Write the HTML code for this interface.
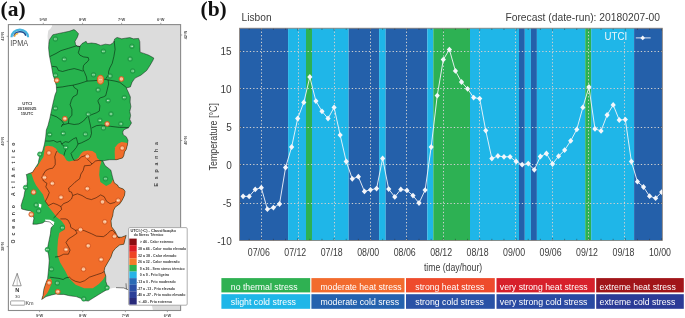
<!DOCTYPE html>
<html><head><meta charset="utf-8"><style>
html,body{margin:0;padding:0;background:#fff;}
body{width:685px;height:318px;overflow:hidden;position:relative;}
svg{position:absolute;left:0;top:0;font-family:"Liberation Sans",sans-serif;will-change:transform;}
</style></head><body>
<svg width="685" height="318" viewBox="0 0 685 318">
<defs><clipPath id="pt"><path d="M48.8 44.2 L49.6 39.5 L52.8 34.8 L57.5 33.7 L63.4 32.5 L69.2 31.3 L73.9 29.6 L75.5 30.5 L78.5 33.7 L77.4 37.2 L75.0 41.3 L75.6 44.8 L77.5 46.3 L79.7 46.5 L82.0 43.6 L86.1 41.3 L87.3 43.6 L91.4 43.0 L96.1 43.6 L100.7 45.4 L105.4 44.2 L110.1 44.8 L113.6 42.4 L114.7 38.9 L117.1 37.4 L121.7 38.8 L125.2 38.2 L129.9 37.6 L133.4 38.8 L138.6 38.4 L139.8 41.7 L140.1 52.2 L143.9 53.4 L148.5 55.1 L153.8 58.0 L153.1 60.0 L150.9 63.9 L149.0 67.0 L146.7 70.5 L140.9 75.2 L135.0 78.1 L132.1 82.2 L130.4 86.9 L126.3 88.0 L128.0 91.5 L130.4 97.0 L130.1 102.0 L130.9 106.7 L129.8 111.4 L130.6 115.4 L129.8 119.5 L131.5 123.0 L128.6 127.7 L123.9 129.7 L122.7 132.0 L123.3 134.9 L126.2 136.7 L128.0 140.2 L127.4 144.9 L126.2 149.5 L124.5 151.9 L123.9 155.4 L122.6 157.9 L116.7 159.7 L109.7 159.7 L102.7 160.8 L105.0 165.5 L110.9 170.2 L112.0 174.9 L113.2 179.5 L114.4 183.0 L117.5 185.0 L118.7 187.3 L123.4 189.1 L125.1 191.4 L124.5 195.5 L122.2 200.2 L119.9 203.7 L115.2 207.2 L113.4 210.7 L112.8 215.4 L111.0 220.8 L111.6 226.7 L115.1 231.4 L118.0 237.2 L121.5 237.2 L126.2 235.4 L125.0 239.5 L123.9 244.2 L119.6 245.0 L115.3 248.5 L112.7 251.9 L111.0 257.1 L108.4 261.4 L104.9 267.5 L104.1 270.9 L105.8 276.1 L105.8 281.3 L107.5 286.5 L108.4 289.1 L106.0 290.2 L101.6 292.8 L97.2 295.5 L92.7 298.3 L88.3 301.1 L83.8 300.5 L80.5 298.3 L76.1 296.6 L71.6 296.1 L68.3 295.5 L63.9 294.4 L59.4 294.4 L56.1 293.9 L51.6 295.0 L46.1 296.6 L41.7 299.4 L43.0 295.5 L43.9 288.9 L46.1 282.2 L47.6 278.8 L48.6 268.9 L49.2 260.7 L48.6 254.9 L47.4 250.2 L48.0 245.5 L49.2 239.7 L50.4 233.8 L51.0 228.0 L53.2 225.4 L49.7 221.9 L45.0 221.3 L42.7 223.0 L36.9 224.2 L32.8 224.2 L33.9 218.4 L32.2 212.5 L30.4 210.8 L26.4 210.2 L21.7 209.0 L21.1 205.5 L22.8 199.7 L23.8 196.9 L24.9 191.0 L26.7 186.4 L27.3 181.7 L26.7 175.8 L26.1 174.7 L29.0 173.5 L32.5 172.3 L35.4 167.7 L38.4 163.0 L38.7 160.4 L39.9 155.7 L42.8 150.4 L44.5 144.0 L45.7 137.0 L46.3 130.0 L48.0 125.4 L49.8 118.4 L51.5 110.2 L53.3 102.0 L55.0 95.0 L56.6 91.0 L56.3 85.4 L54.5 79.5 L52.8 73.7 L51.6 66.7 L50.4 60.8 L49.3 55.0 L48.6 48.0Z"/></clipPath></defs>
<rect x="8.4" y="24.6" width="172.2" height="285.9" fill="#fff"/>
<path d="M51.7 24.6 L52.2 26.0 L50.6 28.4 L48.2 30.8 L47.6 36.0 L48.0 43.5 L48.8 44.2 L49.6 39.5 L52.8 34.8 L57.5 33.7 L63.4 32.5 L69.2 31.3 L73.9 29.6 L75.5 30.5 L78.5 33.7 L77.4 37.2 L75.0 41.3 L75.6 44.8 L77.5 46.3 L79.7 46.5 L82.0 43.6 L86.1 41.3 L87.3 43.6 L91.4 43.0 L96.1 43.6 L100.7 45.4 L105.4 44.2 L110.1 44.8 L113.6 42.4 L114.7 38.9 L117.1 37.4 L121.7 38.8 L125.2 38.2 L129.9 37.6 L133.4 38.8 L138.6 38.4 L139.8 41.7 L140.1 52.2 L143.9 53.4 L148.5 55.1 L153.8 58.0 L153.1 60.0 L150.9 63.9 L149.0 67.0 L146.7 70.5 L140.9 75.2 L135.0 78.1 L132.1 82.2 L130.4 86.9 L126.3 88.0 L128.0 91.5 L130.4 97.0 L130.1 102.0 L130.9 106.7 L129.8 111.4 L130.6 115.4 L129.8 119.5 L131.5 123.0 L128.6 127.7 L123.9 129.7 L122.7 132.0 L123.3 134.9 L126.2 136.7 L128.0 140.2 L127.4 144.9 L126.2 149.5 L124.5 151.9 L123.9 155.4 L122.6 157.9 L116.7 159.7 L109.7 159.7 L102.7 160.8 L105.0 165.5 L110.9 170.2 L112.0 174.9 L113.2 179.5 L114.4 183.0 L117.5 185.0 L118.7 187.3 L123.4 189.1 L125.1 191.4 L124.5 195.5 L122.2 200.2 L119.9 203.7 L115.2 207.2 L113.4 210.7 L112.8 215.4 L111.0 220.8 L111.6 226.7 L115.1 231.4 L118.0 237.2 L121.5 237.2 L126.2 235.4 L125.0 239.5 L123.9 244.2 L119.6 245.0 L115.3 248.5 L112.7 251.9 L111.0 257.1 L108.4 261.4 L104.9 267.5 L104.1 270.9 L105.8 276.1 L105.8 281.3 L107.5 286.5 L108.4 289.1 L113.0 288.0 L117.0 287.5 L123.6 287.9 L128.3 289.8 L140.0 296.0 L148.0 302.0 L152.0 306.0 L153.0 310.5 L180.6 310.5 L180.6 24.6Z" fill="#dcdcdc"/>
<path d="M48.8 44.2 L49.6 39.5 L52.8 34.8 L57.5 33.7 L63.4 32.5 L69.2 31.3 L73.9 29.6 L75.5 30.5 L78.5 33.7 L77.4 37.2 L75.0 41.3 L75.6 44.8 L77.5 46.3 L79.7 46.5 L82.0 43.6 L86.1 41.3 L87.3 43.6 L91.4 43.0 L96.1 43.6 L100.7 45.4 L105.4 44.2 L110.1 44.8 L113.6 42.4 L114.7 38.9 L117.1 37.4 L121.7 38.8 L125.2 38.2 L129.9 37.6 L133.4 38.8 L138.6 38.4 L139.8 41.7 L140.1 52.2 L143.9 53.4 L148.5 55.1 L153.8 58.0 L153.1 60.0 L150.9 63.9 L149.0 67.0 L146.7 70.5 L140.9 75.2 L135.0 78.1 L132.1 82.2 L130.4 86.9 L126.3 88.0 L128.0 91.5 L130.4 97.0 L130.1 102.0 L130.9 106.7 L129.8 111.4 L130.6 115.4 L129.8 119.5 L131.5 123.0 L128.6 127.7 L123.9 129.7 L122.7 132.0 L123.3 134.9 L126.2 136.7 L128.0 140.2 L127.4 144.9 L126.2 149.5 L124.5 151.9 L123.9 155.4 L122.6 157.9 L116.7 159.7 L109.7 159.7 L102.7 160.8 L105.0 165.5 L110.9 170.2 L112.0 174.9 L113.2 179.5 L114.4 183.0 L117.5 185.0 L118.7 187.3 L123.4 189.1 L125.1 191.4 L124.5 195.5 L122.2 200.2 L119.9 203.7 L115.2 207.2 L113.4 210.7 L112.8 215.4 L111.0 220.8 L111.6 226.7 L115.1 231.4 L118.0 237.2 L121.5 237.2 L126.2 235.4 L125.0 239.5 L123.9 244.2 L119.6 245.0 L115.3 248.5 L112.7 251.9 L111.0 257.1 L108.4 261.4 L104.9 267.5 L104.1 270.9 L105.8 276.1 L105.8 281.3 L107.5 286.5 L108.4 289.1 L106.0 290.2 L101.6 292.8 L97.2 295.5 L92.7 298.3 L88.3 301.1 L83.8 300.5 L80.5 298.3 L76.1 296.6 L71.6 296.1 L68.3 295.5 L63.9 294.4 L59.4 294.4 L56.1 293.9 L51.6 295.0 L46.1 296.6 L41.7 299.4 L43.0 295.5 L43.9 288.9 L46.1 282.2 L47.6 278.8 L48.6 268.9 L49.2 260.7 L48.6 254.9 L47.4 250.2 L48.0 245.5 L49.2 239.7 L50.4 233.8 L51.0 228.0 L53.2 225.4 L49.7 221.9 L45.0 221.3 L42.7 223.0 L36.9 224.2 L32.8 224.2 L33.9 218.4 L32.2 212.5 L30.4 210.8 L26.4 210.2 L21.7 209.0 L21.1 205.5 L22.8 199.7 L23.8 196.9 L24.9 191.0 L26.7 186.4 L27.3 181.7 L26.7 175.8 L26.1 174.7 L29.0 173.5 L32.5 172.3 L35.4 167.7 L38.4 163.0 L38.7 160.4 L39.9 155.7 L42.8 150.4 L44.5 144.0 L45.7 137.0 L46.3 130.0 L48.0 125.4 L49.8 118.4 L51.5 110.2 L53.3 102.0 L55.0 95.0 L56.6 91.0 L56.3 85.4 L54.5 79.5 L52.8 73.7 L51.6 66.7 L50.4 60.8 L49.3 55.0 L48.6 48.0Z" fill="#27b34e"/>
<g clip-path="url(#pt)">
<path d="M20.0 167.0 L37.0 167.0 L41.0 160.4 L43.4 156.9 L45.1 146.4 L48.0 145.8 L52.7 146.4 L56.2 148.7 L58.0 152.2 L59.7 153.4 L63.2 155.1 L66.7 160.4 L69.0 161.5 L73.7 160.4 L78.4 158.0 L80.7 153.9 L83.1 151.6 L87.7 150.4 L92.4 151.0 L95.9 153.4 L97.1 158.0 L100.0 160.4 L101.5 161.4 L99.8 166.7 L99.2 174.9 L100.4 181.9 L106.2 186.0 L110.9 183.6 L113.2 179.5 L150.0 179.0 L150.0 276.0 L105.3 276.1 L103.2 279.6 L98.9 283.9 L92.8 288.2 L84.2 288.2 L75.6 284.7 L68.6 277.8 L65.2 270.9 L60.0 262.3 L59.1 259.5 L57.4 254.9 L57.4 247.9 L58.0 239.7 L59.2 233.0 L61.4 231.5 L65.0 229.0 L64.9 225.4 L61.4 220.7 L56.7 217.2 L53.2 212.5 L48.5 206.7 L45.0 200.8 L43.0 194.5 L39.5 189.9 L36.0 185.2 L33.7 180.5 L31.4 173.5 L20.0 173.0Z" fill="#f16d2a"/>
<path d="M115.0 161.0 L114.7 152.0 L115.1 147.2 L118.0 143.7 L121.5 142.0 L125.0 142.5 L135.0 145.0 L135.0 162.0Z" fill="#f16d2a"/>
<path d="M40.0 300.0 L42.5 295.0 L44.0 289.0 L46.0 282.0 L47.5 279.5 L50.5 278.5 L51.8 280.5 L51.6 283.3 L49.4 288.9 L47.2 293.3 L44.4 296.6 L42.8 300.0Z" fill="#f16d2a"/>
</g>
<path d="M38.6 203.5 L41.5 204.5 L41 207.8 L38.8 207 Z" fill="#fff"/>
<path d="M45 219.5 L50 219.8 L54.4 222 L53.5 225.4 L50 222.5 L45.5 221.6Z" fill="#fff"/>
<path d="M49.9 56.5 L56.0 53.5 L61.0 50.6 L68.6 48.3 L76.2 45.9 L79.7 46.5 M80.0 45.8 L79.5 48.8 L78.3 52.8 L80.0 55.2 L83.5 56.9 L88.2 57.5 L88.8 59.9 L87.0 62.2 L85.3 63.4 L83.5 65.7 L83.0 69.2 L84.7 72.7 L86.5 77.0 L87.0 81.1 M52.0 66.3 L56.7 66.9 L58.4 70.4 L62.5 71.5 L68.4 69.8 L74.2 68.6 L78.9 69.8 L82.4 71.0 L83.3 70.5 M114.2 41.0 L115.1 49.3 L113.9 56.4 L112.2 63.4 L109.8 68.0 L108.6 71.5 L108.6 74.7 L105.7 78.8 M56.7 87.5 L62.5 86.9 L68.4 85.8 L73.0 85.2 L80.0 83.4 L87.0 81.1 L94.0 80.7 L97.6 80.3 L104.6 79.3 L108.1 79.9 L115.1 81.1 L119.7 82.3 L125.0 86.4 L126.5 87.8 M73.0 85.2 L74.2 87.5 L77.7 89.9 L77.1 94.5 L73.0 96.9 L71.3 100.4 L70.1 104.7 L71.9 109.3 L71.9 115.2 L68.9 118.7 L68.4 123.4 M108.1 79.9 L108.6 84.0 L106.9 91.0 L105.7 95.7 L103.4 96.9 L99.9 98.0 L98.1 100.4 L98.1 101.8 L99.9 105.8 L99.3 111.1 L96.4 112.8 L91.7 114.6 L87.0 116.9 L83.5 121.0 L78.9 123.9 L74.2 124.5 L68.4 123.4 L62.0 125.1 L61.4 126.9 M50.8 114.6 L56.7 116.9 L61.4 120.4 L63.7 123.4 L62.0 125.1 M88.2 115.2 L89.4 121.0 L90.5 125.7 L91.1 129.2 L91.5 133.5 L90.3 137.6 L88.5 139.3 L85.0 141.1 L81.5 142.8 L78.0 144.0 L77.4 141.7 L76.3 137.6 L73.4 138.8 L71.0 140.5 L68.7 142.3 L65.2 141.7 L61.7 144.0 L60.5 141.1 L57.0 142.3 L53.5 140.5 L50.0 141.1 L45.5 141.0 M91.7 128.0 L96.4 125.7 L101.1 125.1 L105.7 125.7 L110.4 126.3 L115.1 126.9 L119.7 127.4 L125.0 127.4 L128.6 127.7 M61.7 144.0 L64.0 146.4 L65.8 149.9 L64.6 152.8 L64.0 155.7 M78.0 144.0 L76.3 147.5 L73.4 151.0 L71.0 153.4 L72.2 156.9 L73.9 160.4 L78.0 160.0 L81.5 156.9 L85.0 155.7 L87.4 159.2 L89.7 161.5 L92.0 164.0 L95.5 161.0 L98.0 160.5 L102.7 160.8 M92.0 164.0 L90.2 165.3 L84.4 165.8 L83.2 170.5 L80.9 174.0 L79.7 178.7 L75.0 182.2 L71.5 185.7 L68.6 188.0 L69.2 191.5 L71.5 192.0 L72.7 195.5 L77.4 193.8 L82.0 195.5 L86.7 198.4 L91.4 199.6 L96.1 197.8 L100.7 194.9 L104.2 196.7 L106.6 201.3 L110.1 203.7 L114.7 202.5 L117.1 200.2 L121.0 201.0 M57.0 151.0 L55.8 153.4 L54.7 156.9 L55.2 160.0 L55.2 164.7 L52.8 168.2 L49.3 168.8 L45.8 170.5 L43.5 174.0 L41.8 177.5 L43.5 181.0 L47.0 183.4 L45.8 186.9 L48.2 190.4 L49.3 192.7 L47.6 197.0 L45.3 201.3 L48.5 205.5 L53.2 203.2 L57.0 204.5 L61.0 206.6 M72.7 195.5 L71.5 199.0 L68.0 201.9 L63.4 203.7 L61.0 206.6 L61.6 209.5 L58.7 212.4 L56.4 215.4 L53.5 218.0 M60.4 218.9 L65.7 218.9 L68.0 220.0 L70.4 224.7 L70.7 227.3 L75.4 230.3 L77.1 233.2 L73.0 236.1 L68.4 239.0 L66.0 242.5 L68.4 246.6 L70.1 250.1 L68.4 254.2 L63.7 254.2 L59.0 256.5 L55.0 257.0 M75.4 230.3 L80.0 229.7 L84.7 230.8 L91.7 233.8 L96.4 236.1 L103.4 236.7 L106.9 234.3 L110.4 230.8 L112.7 230.3 L115.1 233.2 L117.4 236.7 L119.7 237.8 M49.7 277.2 L54.4 277.8 L59.0 278.4 L63.1 279.5 L66.0 277.8 L69.5 277.2 L71.9 279.5 L75.4 281.3 L80.0 282.4 L84.7 280.7 L89.4 277.2 L96.4 274.8 L101.6 273.1 L104.6 271.3" fill="none" stroke="#000" stroke-width="0.8" stroke-opacity="0.6" stroke-linejoin="round"/>
<path d="M116 287.6 L123.6 287.9 L128.3 289.8 M126 283.3 L126.4 289.2" fill="none" stroke="#222" stroke-width="0.7" stroke-opacity="0.8"/>
<path d="M48.8 44.2 L49.6 39.5 L52.8 34.8 L57.5 33.7 L63.4 32.5 L69.2 31.3 L73.9 29.6 L75.5 30.5 L78.5 33.7 L77.4 37.2 L75.0 41.3 L75.6 44.8 L77.5 46.3 L79.7 46.5 L82.0 43.6 L86.1 41.3 L87.3 43.6 L91.4 43.0 L96.1 43.6 L100.7 45.4 L105.4 44.2 L110.1 44.8 L113.6 42.4 L114.7 38.9 L117.1 37.4 L121.7 38.8 L125.2 38.2 L129.9 37.6 L133.4 38.8 L138.6 38.4 L139.8 41.7 L140.1 52.2 L143.9 53.4 L148.5 55.1 L153.8 58.0 L153.1 60.0 L150.9 63.9 L149.0 67.0 L146.7 70.5 L140.9 75.2 L135.0 78.1 L132.1 82.2 L130.4 86.9 L126.3 88.0 L128.0 91.5 L130.4 97.0 L130.1 102.0 L130.9 106.7 L129.8 111.4 L130.6 115.4 L129.8 119.5 L131.5 123.0 L128.6 127.7 L123.9 129.7 L122.7 132.0 L123.3 134.9 L126.2 136.7 L128.0 140.2 L127.4 144.9 L126.2 149.5 L124.5 151.9 L123.9 155.4 L122.6 157.9 L116.7 159.7 L109.7 159.7 L102.7 160.8 L105.0 165.5 L110.9 170.2 L112.0 174.9 L113.2 179.5 L114.4 183.0 L117.5 185.0 L118.7 187.3 L123.4 189.1 L125.1 191.4 L124.5 195.5 L122.2 200.2 L119.9 203.7 L115.2 207.2 L113.4 210.7 L112.8 215.4 L111.0 220.8 L111.6 226.7 L115.1 231.4 L118.0 237.2 L121.5 237.2 L126.2 235.4 L125.0 239.5 L123.9 244.2 L119.6 245.0 L115.3 248.5 L112.7 251.9 L111.0 257.1 L108.4 261.4 L104.9 267.5 L104.1 270.9 L105.8 276.1 L105.8 281.3 L107.5 286.5 L108.4 289.1 L106.0 290.2 L101.6 292.8 L97.2 295.5 L92.7 298.3 L88.3 301.1 L83.8 300.5 L80.5 298.3 L76.1 296.6 L71.6 296.1 L68.3 295.5 L63.9 294.4 L59.4 294.4 L56.1 293.9 L51.6 295.0 L46.1 296.6 L41.7 299.4 L43.0 295.5 L43.9 288.9 L46.1 282.2 L47.6 278.8 L48.6 268.9 L49.2 260.7 L48.6 254.9 L47.4 250.2 L48.0 245.5 L49.2 239.7 L50.4 233.8 L51.0 228.0 L53.2 225.4 L49.7 221.9 L45.0 221.3 L42.7 223.0 L36.9 224.2 L32.8 224.2 L33.9 218.4 L32.2 212.5 L30.4 210.8 L26.4 210.2 L21.7 209.0 L21.1 205.5 L22.8 199.7 L23.8 196.9 L24.9 191.0 L26.7 186.4 L27.3 181.7 L26.7 175.8 L26.1 174.7 L29.0 173.5 L32.5 172.3 L35.4 167.7 L38.4 163.0 L38.7 160.4 L39.9 155.7 L42.8 150.4 L44.5 144.0 L45.7 137.0 L46.3 130.0 L48.0 125.4 L49.8 118.4 L51.5 110.2 L53.3 102.0 L55.0 95.0 L56.6 91.0 L56.3 85.4 L54.5 79.5 L52.8 73.7 L51.6 66.7 L50.4 60.8 L49.3 55.0 L48.6 48.0Z" fill="none" stroke="#000" stroke-width="0.7" stroke-opacity="0.62"/>
<circle cx="55.4" cy="39.0" r="2.3" fill="#34b457" stroke="#16803a" stroke-width="0.55"/>
<path d="M54.3 39.0 h2.2" stroke="#e4f4e6" stroke-width="1" stroke-dasharray="0.9 0.4"/>
<circle cx="64.3" cy="59.3" r="2.3" fill="#34b457" stroke="#16803a" stroke-width="0.55"/>
<path d="M63.2 59.3 h2.2" stroke="#e4f4e6" stroke-width="1" stroke-dasharray="0.9 0.4"/>
<circle cx="103.4" cy="51.3" r="2.3" fill="#34b457" stroke="#16803a" stroke-width="0.55"/>
<path d="M102.3 51.3 h2.2" stroke="#e4f4e6" stroke-width="1" stroke-dasharray="0.9 0.4"/>
<circle cx="131.9" cy="46.3" r="2.3" fill="#34b457" stroke="#16803a" stroke-width="0.55"/>
<path d="M130.8 46.3 h2.2" stroke="#e4f4e6" stroke-width="1" stroke-dasharray="0.9 0.4"/>
<circle cx="130.1" cy="59.0" r="2.3" fill="#34b457" stroke="#16803a" stroke-width="0.55"/>
<path d="M129.0 59.0 h2.2" stroke="#e4f4e6" stroke-width="1" stroke-dasharray="0.9 0.4"/>
<circle cx="132.7" cy="71.0" r="2.3" fill="#34b457" stroke="#16803a" stroke-width="0.55"/>
<path d="M131.6 71.0 h2.2" stroke="#e4f4e6" stroke-width="1" stroke-dasharray="0.9 0.4"/>
<circle cx="55.5" cy="75.2" r="2.3" fill="#34b457" stroke="#16803a" stroke-width="0.55"/>
<path d="M54.4 75.2 h2.2" stroke="#e4f4e6" stroke-width="1" stroke-dasharray="0.9 0.4"/>
<circle cx="93.5" cy="74.8" r="2.3" fill="#34b457" stroke="#16803a" stroke-width="0.55"/>
<path d="M92.4 74.8 h2.2" stroke="#e4f4e6" stroke-width="1" stroke-dasharray="0.9 0.4"/>
<circle cx="110.1" cy="76.0" r="2.3" fill="#34b457" stroke="#16803a" stroke-width="0.55"/>
<path d="M109.0 76.0 h2.2" stroke="#e4f4e6" stroke-width="1" stroke-dasharray="0.9 0.4"/>
<circle cx="56.8" cy="80.3" r="2.4" fill="#f6ad7c" stroke="#d4521a" stroke-width="0.85"/>
<path d="M55.7 80.3 h2.2" stroke="#fff0e0" stroke-width="1" stroke-dasharray="0.9 0.4"/>
<ellipse cx="100.5" cy="79.7" rx="3.1" ry="4.4" fill="#f39a60" stroke="#e85a18" stroke-width="1"/>
<path d="M99.4 79.7 h2.2" stroke="#fff0e0" stroke-width="1" stroke-dasharray="0.9 0.4"/>
<circle cx="121.4" cy="79.0" r="2.4" fill="#f6ad7c" stroke="#d4521a" stroke-width="0.85"/>
<path d="M120.3 79.0 h2.2" stroke="#fff0e0" stroke-width="1" stroke-dasharray="0.9 0.4"/>
<circle cx="98.1" cy="89.9" r="2.3" fill="#34b457" stroke="#16803a" stroke-width="0.55"/>
<path d="M97.0 89.9 h2.2" stroke="#e4f4e6" stroke-width="1" stroke-dasharray="0.9 0.4"/>
<circle cx="124.3" cy="97.6" r="2.3" fill="#34b457" stroke="#16803a" stroke-width="0.55"/>
<path d="M123.2 97.6 h2.2" stroke="#e4f4e6" stroke-width="1" stroke-dasharray="0.9 0.4"/>
<circle cx="108.1" cy="100.6" r="2.3" fill="#34b457" stroke="#16803a" stroke-width="0.55"/>
<path d="M107.0 100.6 h2.2" stroke="#e4f4e6" stroke-width="1" stroke-dasharray="0.9 0.4"/>
<circle cx="55.4" cy="108.3" r="2.3" fill="#34b457" stroke="#16803a" stroke-width="0.55"/>
<path d="M54.3 108.3 h2.2" stroke="#e4f4e6" stroke-width="1" stroke-dasharray="0.9 0.4"/>
<circle cx="88.2" cy="114.2" r="2.3" fill="#34b457" stroke="#16803a" stroke-width="0.55"/>
<path d="M87.1 114.2 h2.2" stroke="#e4f4e6" stroke-width="1" stroke-dasharray="0.9 0.4"/>
<circle cx="111.0" cy="114.0" r="2.3" fill="#34b457" stroke="#16803a" stroke-width="0.55"/>
<path d="M109.9 114.0 h2.2" stroke="#e4f4e6" stroke-width="1" stroke-dasharray="0.9 0.4"/>
<circle cx="64.9" cy="118.7" r="2.4" fill="#f6ad7c" stroke="#d4521a" stroke-width="0.85"/>
<path d="M63.8 118.7 h2.2" stroke="#fff0e0" stroke-width="1" stroke-dasharray="0.9 0.4"/>
<circle cx="99.9" cy="120.4" r="2.3" fill="#34b457" stroke="#16803a" stroke-width="0.55"/>
<path d="M98.8 120.4 h2.2" stroke="#e4f4e6" stroke-width="1" stroke-dasharray="0.9 0.4"/>
<circle cx="107.2" cy="123.9" r="2.4" fill="#f6ad7c" stroke="#d4521a" stroke-width="0.85"/>
<path d="M106.1 123.9 h2.2" stroke="#fff0e0" stroke-width="1" stroke-dasharray="0.9 0.4"/>
<circle cx="103.4" cy="128.0" r="2.3" fill="#34b457" stroke="#16803a" stroke-width="0.55"/>
<path d="M102.3 128.0 h2.2" stroke="#e4f4e6" stroke-width="1" stroke-dasharray="0.9 0.4"/>
<circle cx="120.9" cy="123.9" r="2.3" fill="#34b457" stroke="#16803a" stroke-width="0.55"/>
<path d="M119.8 123.9 h2.2" stroke="#e4f4e6" stroke-width="1" stroke-dasharray="0.9 0.4"/>
<circle cx="49.7" cy="134.5" r="2.3" fill="#34b457" stroke="#16803a" stroke-width="0.55"/>
<path d="M48.6 134.5 h2.2" stroke="#e4f4e6" stroke-width="1" stroke-dasharray="0.9 0.4"/>
<circle cx="63.2" cy="133.4" r="2.3" fill="#34b457" stroke="#16803a" stroke-width="0.55"/>
<path d="M62.1 133.4 h2.2" stroke="#e4f4e6" stroke-width="1" stroke-dasharray="0.9 0.4"/>
<circle cx="85.4" cy="134.2" r="2.3" fill="#34b457" stroke="#16803a" stroke-width="0.55"/>
<path d="M84.3 134.2 h2.2" stroke="#e4f4e6" stroke-width="1" stroke-dasharray="0.9 0.4"/>
<circle cx="65.8" cy="147.5" r="2.3" fill="#34b457" stroke="#16803a" stroke-width="0.55"/>
<path d="M64.7 147.5 h2.2" stroke="#e4f4e6" stroke-width="1" stroke-dasharray="0.9 0.4"/>
<circle cx="39.8" cy="154.2" r="2.3" fill="#34b457" stroke="#16803a" stroke-width="0.55"/>
<path d="M38.7 154.2 h2.2" stroke="#e4f4e6" stroke-width="1" stroke-dasharray="0.9 0.4"/>
<circle cx="48.9" cy="152.9" r="2.4" fill="#f6ad7c" stroke="#d4521a" stroke-width="0.85"/>
<path d="M47.8 152.9 h2.2" stroke="#fff0e0" stroke-width="1" stroke-dasharray="0.9 0.4"/>
<circle cx="87.4" cy="156.3" r="2.4" fill="#f6ad7c" stroke="#d4521a" stroke-width="0.85"/>
<path d="M86.3 156.3 h2.2" stroke="#fff0e0" stroke-width="1" stroke-dasharray="0.9 0.4"/>
<circle cx="122.2" cy="148.1" r="2.4" fill="#f6ad7c" stroke="#d4521a" stroke-width="0.85"/>
<path d="M121.1 148.1 h2.2" stroke="#fff0e0" stroke-width="1" stroke-dasharray="0.9 0.4"/>
<circle cx="105.5" cy="178.8" r="2.3" fill="#34b457" stroke="#16803a" stroke-width="0.55"/>
<path d="M104.4 178.8 h2.2" stroke="#e4f4e6" stroke-width="1" stroke-dasharray="0.9 0.4"/>
<circle cx="44.5" cy="177.5" r="2.4" fill="#f6ad7c" stroke="#d4521a" stroke-width="0.85"/>
<path d="M43.4 177.5 h2.2" stroke="#fff0e0" stroke-width="1" stroke-dasharray="0.9 0.4"/>
<circle cx="52.3" cy="183.4" r="2.4" fill="#f6ad7c" stroke="#d4521a" stroke-width="0.85"/>
<path d="M51.2 183.4 h2.2" stroke="#fff0e0" stroke-width="1" stroke-dasharray="0.9 0.4"/>
<circle cx="87.3" cy="188.6" r="2.4" fill="#f6ad7c" stroke="#d4521a" stroke-width="0.85"/>
<path d="M86.2 188.6 h2.2" stroke="#fff0e0" stroke-width="1" stroke-dasharray="0.9 0.4"/>
<circle cx="25.6" cy="187.5" r="2.3" fill="#34b457" stroke="#16803a" stroke-width="0.55"/>
<path d="M24.5 187.5 h2.2" stroke="#e4f4e6" stroke-width="1" stroke-dasharray="0.9 0.4"/>
<circle cx="33.6" cy="192.2" r="2.4" fill="#f6ad7c" stroke="#d4521a" stroke-width="0.85"/>
<path d="M32.5 192.2 h2.2" stroke="#fff0e0" stroke-width="1" stroke-dasharray="0.9 0.4"/>
<circle cx="61.0" cy="197.3" r="2.4" fill="#f6ad7c" stroke="#d4521a" stroke-width="0.85"/>
<path d="M59.9 197.3 h2.2" stroke="#fff0e0" stroke-width="1" stroke-dasharray="0.9 0.4"/>
<circle cx="102.5" cy="201.9" r="2.4" fill="#f6ad7c" stroke="#d4521a" stroke-width="0.85"/>
<path d="M101.4 201.9 h2.2" stroke="#fff0e0" stroke-width="1" stroke-dasharray="0.9 0.4"/>
<circle cx="118.2" cy="200.4" r="2.4" fill="#f6ad7c" stroke="#d4521a" stroke-width="0.85"/>
<path d="M117.1 200.4 h2.2" stroke="#fff0e0" stroke-width="1" stroke-dasharray="0.9 0.4"/>
<circle cx="36.1" cy="205.0" r="2.3" fill="#34b457" stroke="#16803a" stroke-width="0.55"/>
<path d="M35.0 205.0 h2.2" stroke="#e4f4e6" stroke-width="1" stroke-dasharray="0.9 0.4"/>
<circle cx="38.7" cy="211.0" r="2.3" fill="#34b457" stroke="#16803a" stroke-width="0.55"/>
<path d="M37.6 211.0 h2.2" stroke="#e4f4e6" stroke-width="1" stroke-dasharray="0.9 0.4"/>
<circle cx="31.3" cy="214.4" r="2.4" fill="#f6ad7c" stroke="#d4521a" stroke-width="0.85"/>
<path d="M30.2 214.4 h2.2" stroke="#fff0e0" stroke-width="1" stroke-dasharray="0.9 0.4"/>
<circle cx="104.8" cy="221.8" r="2.4" fill="#f6ad7c" stroke="#d4521a" stroke-width="0.85"/>
<path d="M103.7 221.8 h2.2" stroke="#fff0e0" stroke-width="1" stroke-dasharray="0.9 0.4"/>
<circle cx="62.4" cy="227.8" r="2.3" fill="#34b457" stroke="#16803a" stroke-width="0.55"/>
<path d="M61.3 227.8 h2.2" stroke="#e4f4e6" stroke-width="1" stroke-dasharray="0.9 0.4"/>
<circle cx="80.5" cy="229.7" r="2.4" fill="#f6ad7c" stroke="#d4521a" stroke-width="0.85"/>
<path d="M79.4 229.7 h2.2" stroke="#fff0e0" stroke-width="1" stroke-dasharray="0.9 0.4"/>
<circle cx="114.5" cy="236.3" r="2.4" fill="#f6ad7c" stroke="#d4521a" stroke-width="0.85"/>
<path d="M113.4 236.3 h2.2" stroke="#fff0e0" stroke-width="1" stroke-dasharray="0.9 0.4"/>
<circle cx="88.2" cy="245.8" r="2.4" fill="#f6ad7c" stroke="#d4521a" stroke-width="0.85"/>
<path d="M87.1 245.8 h2.2" stroke="#fff0e0" stroke-width="1" stroke-dasharray="0.9 0.4"/>
<circle cx="66.0" cy="249.5" r="2.4" fill="#f6ad7c" stroke="#d4521a" stroke-width="0.85"/>
<path d="M64.9 249.5 h2.2" stroke="#fff0e0" stroke-width="1" stroke-dasharray="0.9 0.4"/>
<circle cx="47.4" cy="249.6" r="2.3" fill="#34b457" stroke="#16803a" stroke-width="0.55"/>
<path d="M46.3 249.6 h2.2" stroke="#e4f4e6" stroke-width="1" stroke-dasharray="0.9 0.4"/>
<circle cx="101.1" cy="259.5" r="2.4" fill="#f6ad7c" stroke="#d4521a" stroke-width="0.85"/>
<path d="M100.0 259.5 h2.2" stroke="#fff0e0" stroke-width="1" stroke-dasharray="0.9 0.4"/>
<circle cx="51.4" cy="269.2" r="2.3" fill="#34b457" stroke="#16803a" stroke-width="0.55"/>
<path d="M50.3 269.2 h2.2" stroke="#e4f4e6" stroke-width="1" stroke-dasharray="0.9 0.4"/>
<circle cx="83.5" cy="269.2" r="2.4" fill="#f6ad7c" stroke="#d4521a" stroke-width="0.85"/>
<path d="M82.4 269.2 h2.2" stroke="#fff0e0" stroke-width="1" stroke-dasharray="0.9 0.4"/>
<circle cx="57.3" cy="283.0" r="2.3" fill="#34b457" stroke="#16803a" stroke-width="0.55"/>
<path d="M56.2 283.0 h2.2" stroke="#e4f4e6" stroke-width="1" stroke-dasharray="0.9 0.4"/>
<circle cx="49.1" cy="282.8" r="2.4" fill="#f6ad7c" stroke="#d4521a" stroke-width="0.85"/>
<path d="M48.0 282.8 h2.2" stroke="#fff0e0" stroke-width="1" stroke-dasharray="0.9 0.4"/>
<circle cx="57.8" cy="291.7" r="2.4" fill="#f6ad7c" stroke="#d4521a" stroke-width="0.85"/>
<path d="M56.7 291.7 h2.2" stroke="#fff0e0" stroke-width="1" stroke-dasharray="0.9 0.4"/>
<circle cx="107.1" cy="287.8" r="2.3" fill="#34b457" stroke="#16803a" stroke-width="0.55"/>
<path d="M106.0 287.8 h2.2" stroke="#e4f4e6" stroke-width="1" stroke-dasharray="0.9 0.4"/>
<circle cx="83.8" cy="298.9" r="2.3" fill="#34b457" stroke="#16803a" stroke-width="0.55"/>
<path d="M82.7 298.9 h2.2" stroke="#e4f4e6" stroke-width="1" stroke-dasharray="0.9 0.4"/>
<path d="M11.5 37.2 A8.3 7.6 0 0 1 28.1 37.2" fill="none" stroke="#46b4df" stroke-width="2.2"/>
<path d="M14 36.4 A6 5.2 0 0 1 25.8 35.8" fill="none" stroke="#1d4f90" stroke-width="1.5"/>
<path d="M14.6 36.8 A3.6 3.4 0 0 1 18.2 33.6" fill="none" stroke="#f0b040" stroke-width="1.4"/>
<text x="10.3" y="45.5" font-size="8.6" fill="#4a4a4a" textLength="17.7" lengthAdjust="spacingAndGlyphs">IPMA</text>
<g font-size="4.4" font-weight="bold" fill="#3a3a3a" text-anchor="middle"><text x="27.3" y="105.2" textLength="10" lengthAdjust="spacingAndGlyphs">UTCI</text><text x="26.9" y="110.4" textLength="19" lengthAdjust="spacingAndGlyphs">20180925</text><text x="27.1" y="115.3" textLength="12.6" lengthAdjust="spacingAndGlyphs">15UTC</text></g>
<text transform="translate(15.0,243.5) rotate(-90)" font-size="5.2" font-weight="bold" fill="#333" textLength="101" lengthAdjust="spacing">Oceano  Atlântico</text>
<text transform="translate(158.3,186.5) rotate(-90)" font-size="5.2" font-weight="bold" fill="#444" textLength="44.5" lengthAdjust="spacing">Espanha</text>
<path d="M17.2 273.3 L12.6 285.8 L21.2 285.8 Z" fill="#fff" stroke="#555" stroke-width="0.6"/>
<path d="M17.2 273.3 L17.2 285.8" stroke="#777" stroke-width="0.4"/>
<text x="17.2" y="291.8" font-size="5.6" font-weight="bold" fill="#333" text-anchor="middle">N</text>
<text x="17.5" y="298.4" font-size="4.4" fill="#444" text-anchor="middle">30</text>
<rect x="10.6" y="300.9" width="14.2" height="4.3" rx="0.6" fill="#fff" stroke="#666" stroke-width="0.6"/>
<text x="25.4" y="305" font-size="4.8" fill="#444" textLength="8.2" lengthAdjust="spacingAndGlyphs">Km</text>
<text x="43.3" y="21.4" font-size="3.9" font-weight="bold" fill="#505050" text-anchor="middle">9°W</text><text x="82.6" y="21.4" font-size="3.9" font-weight="bold" fill="#505050" text-anchor="middle">8°W</text><text x="121.6" y="21.4" font-size="3.9" font-weight="bold" fill="#505050" text-anchor="middle">7°W</text><text x="160.8" y="21.4" font-size="3.9" font-weight="bold" fill="#505050" text-anchor="middle">6°W</text><text x="39.6" y="316.9" font-size="3.9" font-weight="bold" fill="#505050" text-anchor="middle">9°W</text><text x="82.7" y="316.9" font-size="3.9" font-weight="bold" fill="#505050" text-anchor="middle">8°W</text><text x="125.4" y="316.9" font-size="3.9" font-weight="bold" fill="#505050" text-anchor="middle">7°W</text><text x="167.4" y="316.9" font-size="3.9" font-weight="bold" fill="#505050" text-anchor="middle">6°W</text><text transform="translate(4.3,36.3) rotate(-90)" font-size="3.9" font-weight="bold" fill="#505050" text-anchor="middle">42°N</text><text transform="translate(4.3,141.4) rotate(-90)" font-size="3.9" font-weight="bold" fill="#505050" text-anchor="middle">40°N</text><text transform="translate(4.3,246.6) rotate(-90)" font-size="3.9" font-weight="bold" fill="#505050" text-anchor="middle">38°N</text><text transform="translate(187.4,35.0) rotate(-90)" font-size="3.9" font-weight="bold" fill="#505050" text-anchor="middle">42°N</text><text transform="translate(187.4,140.5) rotate(-90)" font-size="3.9" font-weight="bold" fill="#505050" text-anchor="middle">40°N</text>
<path d="M43.3 24.4 v-1.6 M82.6 24.4 v-1.6 M121.6 24.4 v-1.6 M160.8 24.4 v-1.6 M39.6 310.5 v1.6 M82.7 310.5 v1.6 M125.4 310.5 v1.6 M167.4 310.5 v1.6 M8.3 36.3 h-1.6 M8.3 141.4 h-1.6 M8.3 246.6 h-1.6 M180.6 35.0 h1.6 M180.6 140.5 h1.6" stroke="#666" stroke-width="0.6"/>
<rect x="8.4" y="24.6" width="172.2" height="285.9" fill="none" stroke="#8a8a8a" stroke-width="1.1"/>
<rect x="128.6" y="227.6" width="58.6" height="77.6" rx="1.2" fill="#fff" stroke="#999" stroke-width="0.8"/>
<g font-size="3.6" font-weight="bold" fill="#333"><text x="130.4" y="232.1" textLength="45.5" lengthAdjust="spacingAndGlyphs">UTCI (ºC) - Classificação</text><text x="133.8" y="236.2" textLength="29.5" lengthAdjust="spacingAndGlyphs">do Stress Térmico</text></g>
<rect x="129.3" y="238.60" width="7.4" height="6.65" fill="#8b0d12"/>
<text x="140.0" y="243.45" font-size="4.2" font-weight="bold" fill="#3a3a3a" textLength="33.3" lengthAdjust="spacingAndGlyphs">&gt; 46 - Calor extremo</text>
<rect x="129.3" y="245.19" width="7.4" height="6.65" fill="#dc1c24"/>
<text x="138.1" y="250.04" font-size="4.2" font-weight="bold" fill="#3a3a3a" textLength="48.0" lengthAdjust="spacingAndGlyphs">38 a 46 - Calor muito elevado</text>
<rect x="129.3" y="251.78" width="7.4" height="6.65" fill="#ee4424"/>
<text x="138.1" y="256.63" font-size="4.2" font-weight="bold" fill="#3a3a3a" textLength="38.3" lengthAdjust="spacingAndGlyphs">32 a 38 - Calor elevado</text>
<rect x="129.3" y="258.37" width="7.4" height="6.65" fill="#f47b28"/>
<text x="138.1" y="263.22" font-size="4.2" font-weight="bold" fill="#3a3a3a" textLength="41.5" lengthAdjust="spacingAndGlyphs">26 a 32 - Calor moderado</text>
<rect x="129.3" y="264.96" width="7.4" height="6.65" fill="#2db34a"/>
<text x="139.8" y="269.81" font-size="4.2" font-weight="bold" fill="#3a3a3a" textLength="44.9" lengthAdjust="spacingAndGlyphs">9 a 26 - Sem stress térmico</text>
<rect x="129.3" y="271.55" width="7.4" height="6.65" fill="#27b3e6"/>
<text x="139.8" y="276.40" font-size="4.2" font-weight="bold" fill="#3a3a3a" textLength="29.4" lengthAdjust="spacingAndGlyphs">0 a 9 - Frio ligeiro</text>
<rect x="129.3" y="278.14" width="7.4" height="6.65" fill="#2a6ab5"/>
<text x="137.0" y="282.99" font-size="4.2" font-weight="bold" fill="#3a3a3a" textLength="38.7" lengthAdjust="spacingAndGlyphs">-13 a 0 - Frio moderado</text>
<rect x="129.3" y="284.73" width="7.4" height="6.65" fill="#2a4fa5"/>
<text x="137.0" y="289.58" font-size="4.2" font-weight="bold" fill="#3a3a3a" textLength="38.0" lengthAdjust="spacingAndGlyphs">-27 a -13 - Frio elevado</text>
<rect x="129.3" y="291.32" width="7.4" height="6.65" fill="#2b3f98"/>
<text x="137.0" y="296.17" font-size="4.2" font-weight="bold" fill="#3a3a3a" textLength="48.4" lengthAdjust="spacingAndGlyphs">-40 a -27 - Frio muito elevado</text>
<rect x="129.3" y="297.91" width="7.4" height="6.65" fill="#292a7a"/>
<text x="138.4" y="302.76" font-size="4.2" font-weight="bold" fill="#3a3a3a" textLength="33.6" lengthAdjust="spacingAndGlyphs">&lt; -40 - Frio extremo</text>
<defs><clipPath id="pc"><rect x="239.6" y="28.2" width="422.7" height="212.4"/></clipPath></defs>
<g>
<rect x="239.60" y="28.20" width="48.50" height="212.40" fill="#2460aa"/>
<rect x="288.10" y="28.20" width="17.90" height="212.40" fill="#1fb6e8"/>
<rect x="306.00" y="28.20" width="6.00" height="212.40" fill="#2db153"/>
<rect x="312.00" y="28.20" width="36.70" height="212.40" fill="#1fb6e8"/>
<rect x="348.70" y="28.20" width="30.40" height="212.40" fill="#2460aa"/>
<rect x="379.10" y="28.20" width="6.60" height="212.40" fill="#1fb6e8"/>
<rect x="385.70" y="28.20" width="41.60" height="212.40" fill="#2460aa"/>
<rect x="427.30" y="28.20" width="6.00" height="212.40" fill="#1fb6e8"/>
<rect x="433.30" y="28.20" width="36.70" height="212.40" fill="#2db153"/>
<rect x="470.00" y="28.20" width="49.00" height="212.40" fill="#1fb6e8"/>
<rect x="519.00" y="28.20" width="5.80" height="212.40" fill="#2460aa"/>
<rect x="524.80" y="28.20" width="6.10" height="212.40" fill="#1fb6e8"/>
<rect x="530.90" y="28.20" width="6.00" height="212.40" fill="#2460aa"/>
<rect x="536.90" y="28.20" width="48.30" height="212.40" fill="#1fb6e8"/>
<rect x="585.20" y="28.20" width="6.00" height="212.40" fill="#2db153"/>
<rect x="591.20" y="28.20" width="42.90" height="212.40" fill="#1fb6e8"/>
<rect x="634.10" y="28.20" width="28.20" height="212.40" fill="#2460aa"/>
</g>
<path d="M261.50 28.20 V240.60 M298.50 28.20 V240.60 M334.50 28.20 V240.60 M370.50 28.20 V240.60 M406.50 28.20 V240.60 M443.50 28.20 V240.60 M479.50 28.20 V240.60 M515.50 28.20 V240.60 M552.50 28.20 V240.60 M588.50 28.20 V240.60 M624.50 42.00 V240.60 M239.60 51.50 H662.30 M239.60 88.50 H662.30 M239.60 127.50 H662.30 M239.60 164.50 H662.30 M239.60 203.50 H662.30" stroke="#cfcfcf" stroke-width="1" stroke-dasharray="1.3 2.1" fill="none"/>
<path d="M261.30 240.60 v-2.5 M261.30 28.20 v2.5 M297.70 240.60 v-2.5 M297.70 28.20 v2.5 M334.10 240.60 v-2.5 M334.10 28.20 v2.5 M370.50 240.60 v-2.5 M370.50 28.20 v2.5 M406.90 240.60 v-2.5 M406.90 28.20 v2.5 M443.30 240.60 v-2.5 M443.30 28.20 v2.5 M479.70 240.60 v-2.5 M479.70 28.20 v2.5 M516.10 240.60 v-2.5 M516.10 28.20 v2.5 M552.50 240.60 v-2.5 M552.50 28.20 v2.5 M588.90 240.60 v-2.5 M588.90 28.20 v2.5 M625.30 240.60 v-2.5 M625.30 28.20 v2.5 M661.70 240.60 v-2.5 M661.70 28.20 v2.5 M249.17 240.60 v-1.8 M249.17 28.20 v1.8 M273.43 240.60 v-1.8 M273.43 28.20 v1.8 M285.57 240.60 v-1.8 M285.57 28.20 v1.8 M309.83 240.60 v-1.8 M309.83 28.20 v1.8 M321.97 240.60 v-1.8 M321.97 28.20 v1.8 M346.23 240.60 v-1.8 M346.23 28.20 v1.8 M358.36 240.60 v-1.8 M358.36 28.20 v1.8 M382.63 240.60 v-1.8 M382.63 28.20 v1.8 M394.76 240.60 v-1.8 M394.76 28.20 v1.8 M419.03 240.60 v-1.8 M419.03 28.20 v1.8 M431.16 240.60 v-1.8 M431.16 28.20 v1.8 M455.43 240.60 v-1.8 M455.43 28.20 v1.8 M467.56 240.60 v-1.8 M467.56 28.20 v1.8 M491.83 240.60 v-1.8 M491.83 28.20 v1.8 M503.96 240.60 v-1.8 M503.96 28.20 v1.8 M528.23 240.60 v-1.8 M528.23 28.20 v1.8 M540.36 240.60 v-1.8 M540.36 28.20 v1.8 M564.62 240.60 v-1.8 M564.62 28.20 v1.8 M576.76 240.60 v-1.8 M576.76 28.20 v1.8 M601.02 240.60 v-1.8 M601.02 28.20 v1.8 M613.16 240.60 v-1.8 M613.16 28.20 v1.8 M637.42 240.60 v-1.8 M637.42 28.20 v1.8 M649.56 240.60 v-1.8 M649.56 28.20 v1.8 M239.60 51.00 h2.5 M662.30 51.00 h-2.5 M239.60 89.00 h2.5 M662.30 89.00 h-2.5 M239.60 127.00 h2.5 M662.30 127.00 h-2.5 M239.60 165.00 h2.5 M662.30 165.00 h-2.5 M239.60 203.00 h2.5 M662.30 203.00 h-2.5" stroke="#333" stroke-width="0.8" fill="none" opacity="0.6"/>
<rect x="239.60" y="28.20" width="422.70" height="212.40" fill="none" stroke="#8a7e74" stroke-width="0.8"/>
<g clip-path="url(#pc)"><polyline points="243.10,196.30 249.17,196.40 255.23,189.40 261.30,187.70 267.37,209.20 273.43,207.60 279.50,204.00 285.57,167.50 291.63,147.00 297.70,118.50 303.77,102.40 309.84,77.00 315.90,101.10 321.97,111.30 328.04,118.50 334.10,107.40 340.17,135.10 346.24,161.50 352.31,178.80 358.37,176.70 364.44,191.40 370.51,189.80 376.57,188.60 382.64,158.50 388.71,189.10 394.77,196.90 400.84,189.40 406.91,190.40 412.98,195.60 419.04,203.00 425.11,190.10 431.18,147.00 437.24,95.60 443.31,59.60 449.38,49.60 455.44,70.90 461.51,82.00 467.58,88.80 473.64,97.60 479.71,98.60 485.78,130.60 491.85,158.50 497.91,156.00 503.98,156.80 510.05,156.80 516.11,161.50 522.18,164.70 528.25,163.60 534.32,169.80 540.38,156.50 546.45,153.50 552.52,164.00 558.58,156.20 564.65,150.10 570.72,140.80 576.78,129.40 582.85,107.40 588.92,87.00 594.99,128.90 601.05,130.90 607.12,115.00 613.19,104.90 619.25,120.00 625.32,119.60 631.39,161.50 637.45,181.70 643.52,187.00 649.59,196.20 655.65,198.20 661.72,192.10" fill="none" stroke="#f4f6fa" stroke-width="0.9"/>
<path d="M243.10 193.40 l2.6 2.9 l-2.6 2.9 l-2.6 -2.9z" fill="#f4f6fa"/>
<path d="M249.17 193.50 l2.6 2.9 l-2.6 2.9 l-2.6 -2.9z" fill="#f4f6fa"/>
<path d="M255.23 186.50 l2.6 2.9 l-2.6 2.9 l-2.6 -2.9z" fill="#f4f6fa"/>
<path d="M261.30 184.80 l2.6 2.9 l-2.6 2.9 l-2.6 -2.9z" fill="#f4f6fa"/>
<path d="M267.37 206.30 l2.6 2.9 l-2.6 2.9 l-2.6 -2.9z" fill="#f4f6fa"/>
<path d="M273.43 204.70 l2.6 2.9 l-2.6 2.9 l-2.6 -2.9z" fill="#f4f6fa"/>
<path d="M279.50 201.10 l2.6 2.9 l-2.6 2.9 l-2.6 -2.9z" fill="#f4f6fa"/>
<path d="M285.57 164.60 l2.6 2.9 l-2.6 2.9 l-2.6 -2.9z" fill="#f4f6fa"/>
<path d="M291.63 144.10 l2.6 2.9 l-2.6 2.9 l-2.6 -2.9z" fill="#f4f6fa"/>
<path d="M297.70 115.60 l2.6 2.9 l-2.6 2.9 l-2.6 -2.9z" fill="#f4f6fa"/>
<path d="M303.77 99.50 l2.6 2.9 l-2.6 2.9 l-2.6 -2.9z" fill="#f4f6fa"/>
<path d="M309.84 74.10 l2.6 2.9 l-2.6 2.9 l-2.6 -2.9z" fill="#f4f6fa"/>
<path d="M315.90 98.20 l2.6 2.9 l-2.6 2.9 l-2.6 -2.9z" fill="#f4f6fa"/>
<path d="M321.97 108.40 l2.6 2.9 l-2.6 2.9 l-2.6 -2.9z" fill="#f4f6fa"/>
<path d="M328.04 115.60 l2.6 2.9 l-2.6 2.9 l-2.6 -2.9z" fill="#f4f6fa"/>
<path d="M334.10 104.50 l2.6 2.9 l-2.6 2.9 l-2.6 -2.9z" fill="#f4f6fa"/>
<path d="M340.17 132.20 l2.6 2.9 l-2.6 2.9 l-2.6 -2.9z" fill="#f4f6fa"/>
<path d="M346.24 158.60 l2.6 2.9 l-2.6 2.9 l-2.6 -2.9z" fill="#f4f6fa"/>
<path d="M352.31 175.90 l2.6 2.9 l-2.6 2.9 l-2.6 -2.9z" fill="#f4f6fa"/>
<path d="M358.37 173.80 l2.6 2.9 l-2.6 2.9 l-2.6 -2.9z" fill="#f4f6fa"/>
<path d="M364.44 188.50 l2.6 2.9 l-2.6 2.9 l-2.6 -2.9z" fill="#f4f6fa"/>
<path d="M370.51 186.90 l2.6 2.9 l-2.6 2.9 l-2.6 -2.9z" fill="#f4f6fa"/>
<path d="M376.57 185.70 l2.6 2.9 l-2.6 2.9 l-2.6 -2.9z" fill="#f4f6fa"/>
<path d="M382.64 155.60 l2.6 2.9 l-2.6 2.9 l-2.6 -2.9z" fill="#f4f6fa"/>
<path d="M388.71 186.20 l2.6 2.9 l-2.6 2.9 l-2.6 -2.9z" fill="#f4f6fa"/>
<path d="M394.77 194.00 l2.6 2.9 l-2.6 2.9 l-2.6 -2.9z" fill="#f4f6fa"/>
<path d="M400.84 186.50 l2.6 2.9 l-2.6 2.9 l-2.6 -2.9z" fill="#f4f6fa"/>
<path d="M406.91 187.50 l2.6 2.9 l-2.6 2.9 l-2.6 -2.9z" fill="#f4f6fa"/>
<path d="M412.98 192.70 l2.6 2.9 l-2.6 2.9 l-2.6 -2.9z" fill="#f4f6fa"/>
<path d="M419.04 200.10 l2.6 2.9 l-2.6 2.9 l-2.6 -2.9z" fill="#f4f6fa"/>
<path d="M425.11 187.20 l2.6 2.9 l-2.6 2.9 l-2.6 -2.9z" fill="#f4f6fa"/>
<path d="M431.18 144.10 l2.6 2.9 l-2.6 2.9 l-2.6 -2.9z" fill="#f4f6fa"/>
<path d="M437.24 92.70 l2.6 2.9 l-2.6 2.9 l-2.6 -2.9z" fill="#f4f6fa"/>
<path d="M443.31 56.70 l2.6 2.9 l-2.6 2.9 l-2.6 -2.9z" fill="#f4f6fa"/>
<path d="M449.38 46.70 l2.6 2.9 l-2.6 2.9 l-2.6 -2.9z" fill="#f4f6fa"/>
<path d="M455.44 68.00 l2.6 2.9 l-2.6 2.9 l-2.6 -2.9z" fill="#f4f6fa"/>
<path d="M461.51 79.10 l2.6 2.9 l-2.6 2.9 l-2.6 -2.9z" fill="#f4f6fa"/>
<path d="M467.58 85.90 l2.6 2.9 l-2.6 2.9 l-2.6 -2.9z" fill="#f4f6fa"/>
<path d="M473.64 94.70 l2.6 2.9 l-2.6 2.9 l-2.6 -2.9z" fill="#f4f6fa"/>
<path d="M479.71 95.70 l2.6 2.9 l-2.6 2.9 l-2.6 -2.9z" fill="#f4f6fa"/>
<path d="M485.78 127.70 l2.6 2.9 l-2.6 2.9 l-2.6 -2.9z" fill="#f4f6fa"/>
<path d="M491.85 155.60 l2.6 2.9 l-2.6 2.9 l-2.6 -2.9z" fill="#f4f6fa"/>
<path d="M497.91 153.10 l2.6 2.9 l-2.6 2.9 l-2.6 -2.9z" fill="#f4f6fa"/>
<path d="M503.98 153.90 l2.6 2.9 l-2.6 2.9 l-2.6 -2.9z" fill="#f4f6fa"/>
<path d="M510.05 153.90 l2.6 2.9 l-2.6 2.9 l-2.6 -2.9z" fill="#f4f6fa"/>
<path d="M516.11 158.60 l2.6 2.9 l-2.6 2.9 l-2.6 -2.9z" fill="#f4f6fa"/>
<path d="M522.18 161.80 l2.6 2.9 l-2.6 2.9 l-2.6 -2.9z" fill="#f4f6fa"/>
<path d="M528.25 160.70 l2.6 2.9 l-2.6 2.9 l-2.6 -2.9z" fill="#f4f6fa"/>
<path d="M534.32 166.90 l2.6 2.9 l-2.6 2.9 l-2.6 -2.9z" fill="#f4f6fa"/>
<path d="M540.38 153.60 l2.6 2.9 l-2.6 2.9 l-2.6 -2.9z" fill="#f4f6fa"/>
<path d="M546.45 150.60 l2.6 2.9 l-2.6 2.9 l-2.6 -2.9z" fill="#f4f6fa"/>
<path d="M552.52 161.10 l2.6 2.9 l-2.6 2.9 l-2.6 -2.9z" fill="#f4f6fa"/>
<path d="M558.58 153.30 l2.6 2.9 l-2.6 2.9 l-2.6 -2.9z" fill="#f4f6fa"/>
<path d="M564.65 147.20 l2.6 2.9 l-2.6 2.9 l-2.6 -2.9z" fill="#f4f6fa"/>
<path d="M570.72 137.90 l2.6 2.9 l-2.6 2.9 l-2.6 -2.9z" fill="#f4f6fa"/>
<path d="M576.78 126.50 l2.6 2.9 l-2.6 2.9 l-2.6 -2.9z" fill="#f4f6fa"/>
<path d="M582.85 104.50 l2.6 2.9 l-2.6 2.9 l-2.6 -2.9z" fill="#f4f6fa"/>
<path d="M588.92 84.10 l2.6 2.9 l-2.6 2.9 l-2.6 -2.9z" fill="#f4f6fa"/>
<path d="M594.99 126.00 l2.6 2.9 l-2.6 2.9 l-2.6 -2.9z" fill="#f4f6fa"/>
<path d="M601.05 128.00 l2.6 2.9 l-2.6 2.9 l-2.6 -2.9z" fill="#f4f6fa"/>
<path d="M607.12 112.10 l2.6 2.9 l-2.6 2.9 l-2.6 -2.9z" fill="#f4f6fa"/>
<path d="M613.19 102.00 l2.6 2.9 l-2.6 2.9 l-2.6 -2.9z" fill="#f4f6fa"/>
<path d="M619.25 117.10 l2.6 2.9 l-2.6 2.9 l-2.6 -2.9z" fill="#f4f6fa"/>
<path d="M625.32 116.70 l2.6 2.9 l-2.6 2.9 l-2.6 -2.9z" fill="#f4f6fa"/>
<path d="M631.39 158.60 l2.6 2.9 l-2.6 2.9 l-2.6 -2.9z" fill="#f4f6fa"/>
<path d="M637.45 178.80 l2.6 2.9 l-2.6 2.9 l-2.6 -2.9z" fill="#f4f6fa"/>
<path d="M643.52 184.10 l2.6 2.9 l-2.6 2.9 l-2.6 -2.9z" fill="#f4f6fa"/>
<path d="M649.59 193.30 l2.6 2.9 l-2.6 2.9 l-2.6 -2.9z" fill="#f4f6fa"/>
<path d="M655.65 195.30 l2.6 2.9 l-2.6 2.9 l-2.6 -2.9z" fill="#f4f6fa"/>
<path d="M661.72 189.20 l2.6 2.9 l-2.6 2.9 l-2.6 -2.9z" fill="#f4f6fa"/>
</g>
<text x="604.6" y="40.4" font-size="10" fill="#f0f6fa" textLength="22.6" lengthAdjust="spacingAndGlyphs">UTCI</text>
<path d="M635.8 37.9 H650.7" stroke="#f4f6fa" stroke-width="0.9"/>
<path d="M642.7 35.6 l2.3 2.3 l-2.3 2.3 l-2.3 -2.3z" fill="#f4f6fa"/>
<text x="231.7" y="54.60" font-size="10" fill="#3c3c3c" text-anchor="end">15</text>
<text x="231.7" y="92.60" font-size="10" fill="#3c3c3c" text-anchor="end">10</text>
<text x="231.7" y="130.60" font-size="10" fill="#3c3c3c" text-anchor="end">5</text>
<text x="231.7" y="168.60" font-size="10" fill="#3c3c3c" text-anchor="end">0</text>
<text x="231.7" y="206.60" font-size="10" fill="#3c3c3c" text-anchor="end">-5</text>
<text x="231.7" y="244.60" font-size="10" fill="#3c3c3c" text-anchor="end">-10</text>
<text x="247.80" y="255.9" font-size="10" fill="#3c3c3c" textLength="22" lengthAdjust="spacingAndGlyphs">07/06</text>
<text x="284.27" y="255.9" font-size="10" fill="#3c3c3c" textLength="22" lengthAdjust="spacingAndGlyphs">07/12</text>
<text x="320.74" y="255.9" font-size="10" fill="#3c3c3c" textLength="22" lengthAdjust="spacingAndGlyphs">07/18</text>
<text x="357.21" y="255.9" font-size="10" fill="#3c3c3c" textLength="22" lengthAdjust="spacingAndGlyphs">08/00</text>
<text x="393.68" y="255.9" font-size="10" fill="#3c3c3c" textLength="22" lengthAdjust="spacingAndGlyphs">08/06</text>
<text x="430.15" y="255.9" font-size="10" fill="#3c3c3c" textLength="22" lengthAdjust="spacingAndGlyphs">08/12</text>
<text x="466.62" y="255.9" font-size="10" fill="#3c3c3c" textLength="22" lengthAdjust="spacingAndGlyphs">08/18</text>
<text x="503.09" y="255.9" font-size="10" fill="#3c3c3c" textLength="22" lengthAdjust="spacingAndGlyphs">09/00</text>
<text x="539.56" y="255.9" font-size="10" fill="#3c3c3c" textLength="22" lengthAdjust="spacingAndGlyphs">09/06</text>
<text x="576.03" y="255.9" font-size="10" fill="#3c3c3c" textLength="22" lengthAdjust="spacingAndGlyphs">09/12</text>
<text x="612.50" y="255.9" font-size="10" fill="#3c3c3c" textLength="22" lengthAdjust="spacingAndGlyphs">09/18</text>
<text x="648.97" y="255.9" font-size="10" fill="#3c3c3c" textLength="22" lengthAdjust="spacingAndGlyphs">10/00</text>
<text x="423.9" y="271.2" font-size="10" fill="#3c3c3c" textLength="58.3" lengthAdjust="spacingAndGlyphs">time (day/hour)</text>
<text transform="translate(217,170.5) rotate(-90)" font-size="10" fill="#3c3c3c" textLength="67.5" lengthAdjust="spacingAndGlyphs">Temperature [°C]</text>
<text x="241.6" y="21" font-size="10" fill="#3c3c3c" textLength="30" lengthAdjust="spacingAndGlyphs">Lisbon</text>
<text x="505.4" y="21" font-size="10" fill="#3c3c3c" textLength="154.7" lengthAdjust="spacingAndGlyphs">Forecast (date-run): 20180207-00</text>
<text x="0.5" y="15.5" font-family="Liberation Serif" font-weight="bold" font-size="21.5" fill="#111">(a)</text>
<text x="200.5" y="15.5" font-family="Liberation Serif" font-weight="bold" font-size="21.5" fill="#111">(b)</text>
<rect x="221.4" y="278.1" width="88.8" height="14.3" fill="#2fb152"/>
<text x="230.8" y="289.6" font-size="9.4" fill="#fff" textLength="66.7" lengthAdjust="spacingAndGlyphs">no thermal stress</text>
<rect x="311.4" y="278.1" width="93.1" height="14.3" fill="#f26b2d"/>
<text x="320.4" y="289.6" font-size="9.4" fill="#fff" textLength="81.2" lengthAdjust="spacingAndGlyphs">moderate heat stress</text>
<rect x="406.0" y="278.1" width="88.8" height="14.3" fill="#ee4b2c"/>
<text x="415.3" y="289.6" font-size="9.4" fill="#fff" textLength="69.1" lengthAdjust="spacingAndGlyphs">strong heat stress</text>
<rect x="496.5" y="278.1" width="98.3" height="14.3" fill="#d7202b"/>
<text x="499.8" y="289.6" font-size="9.4" fill="#fff" textLength="87.9" lengthAdjust="spacingAndGlyphs">very strong heat stress</text>
<rect x="596.2" y="278.1" width="87.6" height="14.3" fill="#a11519"/>
<text x="599.6" y="289.6" font-size="9.4" fill="#fff" textLength="76.2" lengthAdjust="spacingAndGlyphs">extreme heat stress</text>
<rect x="221.4" y="294.2" width="88.8" height="14.6" fill="#1fb6e8"/>
<text x="230.8" y="305.2" font-size="9.4" fill="#fff" textLength="65.2" lengthAdjust="spacingAndGlyphs">slight cold stress</text>
<rect x="311.4" y="294.2" width="93.1" height="14.6" fill="#2462ae"/>
<text x="320.4" y="305.2" font-size="9.4" fill="#fff" textLength="78.7" lengthAdjust="spacingAndGlyphs">moderate cold sress</text>
<rect x="406.0" y="294.2" width="88.8" height="14.6" fill="#2a52a6"/>
<text x="415.3" y="305.2" font-size="9.4" fill="#fff" textLength="68.7" lengthAdjust="spacingAndGlyphs">strong cold stress</text>
<rect x="496.5" y="294.2" width="98.3" height="14.6" fill="#2a4aa2"/>
<text x="499.8" y="305.2" font-size="9.4" fill="#fff" textLength="87.6" lengthAdjust="spacingAndGlyphs">very strong cold stress</text>
<rect x="596.2" y="294.2" width="87.6" height="14.6" fill="#2b3b96"/>
<text x="599.6" y="305.2" font-size="9.4" fill="#fff" textLength="75.7" lengthAdjust="spacingAndGlyphs">extreme cold stress</text>
</svg>
</body></html>
